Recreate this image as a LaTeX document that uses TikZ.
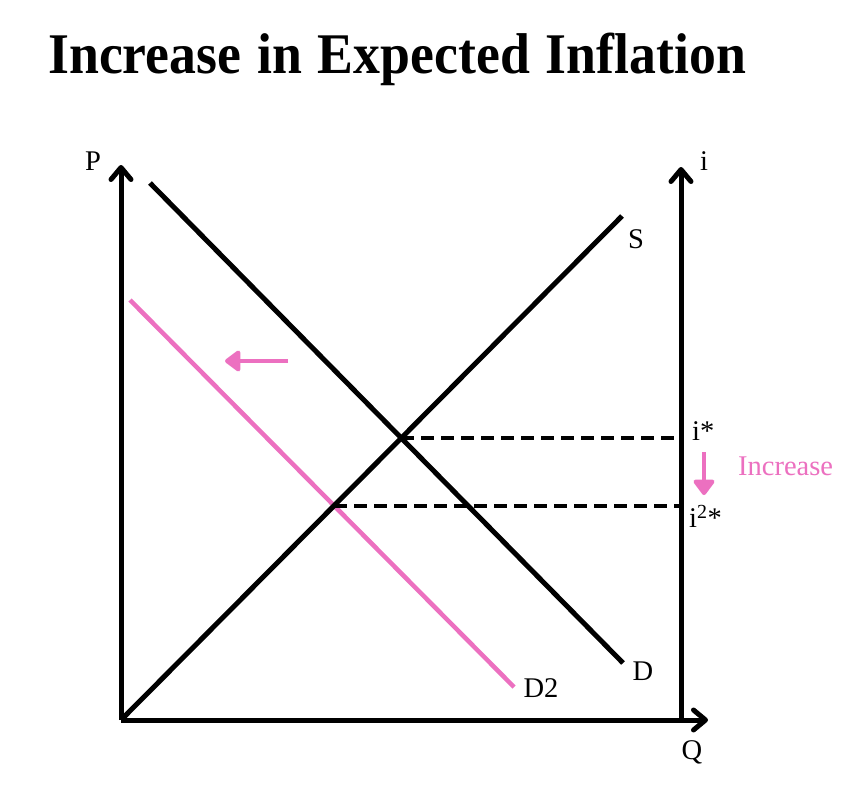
\documentclass[tikz,border=0pt]{standalone}
\usepackage{fontspec}
\setmainfont{Liberation Serif}
\usetikzlibrary{arrows.meta,calc}
\definecolor{pinkc}{RGB}{236,112,192}
\begin{document}
\begin{tikzpicture}[x=1pt,y=-1pt,
  axis/.style={line width=5pt,-{Straight Barb[length=12pt,width=20pt,line cap=round,line join=round]}},
  curve/.style={line width=5pt},
  pcurve/.style={line width=4.5pt,pinkc},
  dashline/.style={line width=4pt,dash pattern=on 13pt off 7pt},
  parrow/.style={line width=4.5pt,pinkc,-{Triangle[length=17pt,width=24pt,line join=round,round]}},
  lbl/.style={font=\fontsize{28.5}{30}\selectfont,inner sep=0pt}]
\useasboundingbox (0,0) rectangle (852,806);
\fill[white] (0,0) rectangle (852,806);
\node[anchor=base west,inner sep=0pt] (title) at (48,73) {\scalebox{0.935}[1]{\fontsize{57.5}{58}\selectfont\bfseries\spaceskip=17pt Increase in Expected Inflation}};
% coordinates
\coordinate (O) at (121,720);
\coordinate (Ptop) at (121,165);
\coordinate (Qend) at (708,720);
\coordinate (Rbot) at (681,720);
\coordinate (Rtop) at (681,167);
\coordinate (Ds) at (150,183);
\coordinate (De) at (623,663);
\coordinate (Se) at (622,216);
\coordinate (D2s) at (130,300);
\coordinate (D2e) at (514,687);
\coordinate (E1) at (intersection of Ds--De and O--Se);
\coordinate (E2) at (intersection of D2s--D2e and O--Se);
% axes
\draw[axis] (O) -- (Ptop);
\draw[axis] (Rbot) -- (Rtop);
\draw[axis] (O) -- (Qend);
% curves
\draw[pcurve] (D2s) -- (D2e);
\draw[curve] (Ds) -- (De);
\draw[curve] (O) -- (Se);
\draw[dashline] (E1) -- (E1 -| Rbot);
\draw[dashline] (E2) -- (E2 -| Rbot);
% pink arrows
\coordinate (La) at (288,361);
\coordinate (Lb) at (225,361);
\draw[parrow] (La) -- (Lb);
\coordinate (Da) at (704,452);
\coordinate (Db) at (704,495);
\draw[parrow] (Da) -- (Db);
% labels
\node[lbl] (lP) at (93,161) {P};
\node[lbl] (li) at (704,161) {i};
\node[lbl] (lQ) at (692,752) {Q};
\node[lbl] (lS) at (636,239) {S};
\node[lbl] (lD) at (643,671) {D};
\node[lbl] (lD2) at (541,688) {D2};
\node[lbl,anchor=west] (lis) at (692,431) {i*};
\node[lbl,anchor=west] (li2s) at (689,516) {i\textsuperscript{2}*};
\node[lbl,anchor=west,text=pinkc] (linc) at (738,466) {Increase};
\end{tikzpicture}
\end{document}
